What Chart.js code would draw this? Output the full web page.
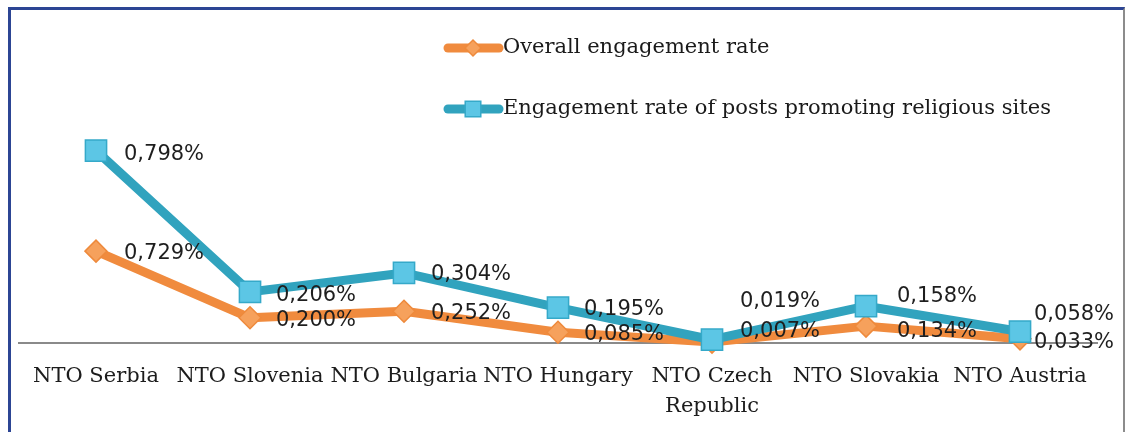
<!DOCTYPE html>
<html>
<head>
<meta charset="utf-8">
<script src="https://cdn.jsdelivr.net/npm/chart.js@4.4.1/dist/chart.umd.min.js"></script>
<style>
  html, body { margin: 0; padding: 0; background: #fff; }
  #wrap { position: relative; width: 1125px; height: 432px; overflow: hidden; }
  #frame {
    position: absolute; left: 8px; top: 7px; right: 0; bottom: -10px;
    border-left: 3px solid #2c4594; border-top: 3px solid #2c4594; border-right: 2px solid #8c8c8c;
  }
  canvas { position: absolute; left: 0; top: 0; }
</style>
</head>
<body>
<div id="wrap">
  <div id="frame"></div>
  <canvas id="chart" width="1125" height="432"></canvas>
</div>
<script>
const CATEGORIES = ['NTO Serbia', 'NTO Slovenia', 'NTO Bulgaria', 'NTO Hungary', ['NTO Czech', 'Republic'], 'NTO Slovakia', 'NTO Austria'];
const OVERALL    = [0.729, 0.200, 0.252, 0.085, 0.007, 0.134, 0.033];
const RELIGIOUS  = [0.798, 0.206, 0.304, 0.195, 0.019, 0.158, 0.058];
const SERIES     = ['Overall engagement rate', 'Engagement rate of posts promoting religious sites'];

const ORANGE = '#f08b3e';
const BLUE   = '#31a3be';

// where each value label sits relative to its point: [dx, dy]
const LABEL_NUDGE = [
  [[28, 2], [26, 3], [27, 2], [26, 2], [28, -11], [31, 5], [14, 4]],
  [[28, 4], [26, 4], [27, 2], [26, 2], [28, -38], [31, -10], [14, -17]],
];
const LEGEND_Y = [48, 109];

const fmt = v => v.toFixed(3).replace('.', ',') + '%';

// blue series has to sit above orange, but stacking must stay orange-first
const blueOnTop = {
  id: 'blueOnTop',
  beforeDatasetDraw(chart, args) {
    if (args.index === 1) return false;
  },
  afterDatasetDraw(chart, args) {
    if (args.index === 0) chart.getDatasetMeta(1).controller.draw();
  }
};

const valueLabels = {
  id: 'valueLabels',
  afterDatasetsDraw(chart) {
    const ctx = chart.ctx;
    ctx.save();
    ctx.font = '21px "DejaVu Sans"';
    ctx.fillStyle = '#1e1e1e';
    ctx.textAlign = 'left';
    ctx.textBaseline = 'middle';
    chart.data.datasets.forEach((ds, i) => {
      chart.getDatasetMeta(i).data.forEach((pt, j) => {
        const [dx, dy] = LABEL_NUDGE[i][j];
        ctx.fillText(fmt(ds.data[j]), pt.x + dx, pt.y + dy);
      });
    });
    ctx.restore();
  }
};

const seriesLegend = {
  id: 'seriesLegend',
  afterDraw(chart) {
    const ctx = chart.ctx;
    chart.data.datasets.forEach((ds, i) => {
      const y = LEGEND_Y[i];
      ctx.save();
      ctx.strokeStyle = ds.borderColor;
      ctx.lineWidth = 9;
      ctx.lineCap = 'round';
      ctx.beginPath();
      ctx.moveTo(448, y);
      ctx.lineTo(499, y);
      ctx.stroke();
      ctx.fillStyle = ds.pointBackgroundColor;
      ctx.strokeStyle = ds.pointBorderColor;
      ctx.lineWidth = 1.5;
      Chart.helpers.drawPoint(ctx, { pointStyle: ds.pointStyle, radius: i === 0 ? 8 : 11, rotation: 0, borderWidth: 1.5 }, 473, y);
      ctx.font = '21px "DejaVu Serif"';
      ctx.fillStyle = '#1a1a1a';
      ctx.textBaseline = 'middle';
      ctx.fillText(ds.label, 503, y);
      ctx.restore();
    });
  }
};

new Chart(document.getElementById('chart'), {
  type: 'line',
  data: {
    labels: CATEGORIES,
    datasets: [
      {
        label: SERIES[0],
        data: OVERALL,
        borderColor: ORANGE,
        borderWidth: 9,
        borderJoinStyle: 'round',
        pointStyle: 'rectRot',
        pointRadius: 11,
        pointBackgroundColor: '#f6a15c',
        pointBorderColor: '#ee8a3c',
        pointBorderWidth: 1.5,
        clip: false,
      },
      {
        label: SERIES[1],
        data: RELIGIOUS,
        borderColor: BLUE,
        borderWidth: 9,
        borderJoinStyle: 'round',
        pointStyle: 'rect',
        pointRadius: 15,
        pointBackgroundColor: '#5cc6e5',
        pointBorderColor: '#35a9c9',
        pointBorderWidth: 1.5,
        clip: false,
      }
    ]
  },
  options: {
    responsive: false,
    animation: false,
    layout: { padding: { left: 19, right: 28, top: 28, bottom: 0 } },
    plugins: { legend: { display: false }, tooltip: { enabled: false } },
    scales: {
      x: {
        offset: true,
        grid: { display: false, drawTicks: false },
        border: { display: true, color: '#8a8a8a', width: 2 },
        ticks: {
          font: { family: 'DejaVu Serif', size: 21, lineHeight: 1.4 },
          color: '#1c1c1c',
          padding: 19,
          maxRotation: 0,
          autoSkip: false,
        },
        afterFit(scale) { scale.height = 89; }
      },
      y: { display: false, stacked: true, min: 0, max: 2.5 }
    }
  },
  plugins: [blueOnTop, valueLabels, seriesLegend]
});
</script>
</body>
</html>
